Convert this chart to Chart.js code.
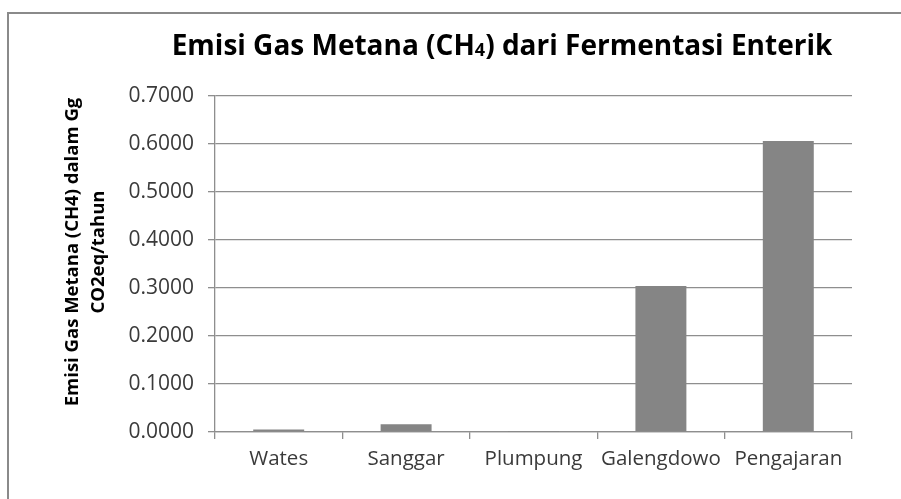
<!DOCTYPE html>
<html>
<head>
<meta charset="utf-8">
<script src="https://cdn.jsdelivr.net/npm/chart.js@4/dist/chart.umd.min.js"></script>
<style>
  html, body { margin: 0; padding: 0; background: #fff; overflow: hidden; }
  #frame { position: absolute; left: 7px; top: 12px; width: 1000px; height: 1000px; border: 2px solid #8a8a8a; }
  #wrap { position: absolute; left: 0; top: 0; width: 901px; height: 499px; }
</style>
</head>
<body>
<div id="frame"></div>
<div id="wrap"><canvas id="chart"></canvas></div>
<script>
// data
var villages = ["Wates", "Sanggar", "Plumpung", "Galengdowo", "Pengajaran"];
var emisi = [0.005, 0.016, 0.0003, 0.304, 0.606];
var yTicks = [0, 0.1, 0.2, 0.3, 0.4, 0.5, 0.6, 0.7];
var titleParts = ["Emisi Gas Metana (CH", "4", ") dari Fermentasi Enterik"];
var yTitle = ["Emisi Gas Metana (CH4) dalam Gg", "CO2eq/tahun"];

var gridGray = "#8e8e8e";
var textGray = "#3a3a3a";

// judul dan label sumbu digambar sendiri supaya posisinya pas
var titlePlugin = {
    id: "judul",
    afterDraw: function (chart) {
        var ctx = chart.ctx;
        ctx.save();
        ctx.fillStyle = "#000";
        ctx.textBaseline = "alphabetic";
        var big = "bold 28px 'Open Sans'";
        var small = "bold 18px 'Open Sans'";
        ctx.font = big;
        var w0 = ctx.measureText(titleParts[0]).width;
        var w2 = ctx.measureText(titleParts[2]).width;
        ctx.font = small;
        var w1 = ctx.measureText(titleParts[1]).width;
        var x = 502 - (w0 + w1 + w2) / 2;
        ctx.font = big;
        ctx.fillText(titleParts[0], x, 55);
        ctx.font = small;
        ctx.fillText(titleParts[1], x + w0, 56);
        ctx.font = big;
        ctx.fillText(titleParts[2], x + w0 + w1, 55);

        // judul sumbu y
        ctx.font = "bold 18.5px 'Open Sans'";
        ctx.textAlign = "center";
        ctx.textBaseline = "middle";
        ctx.translate(0, 252);
        ctx.rotate(-Math.PI / 2);
        ctx.fillText(yTitle[0], 0, 73);
        ctx.fillText(yTitle[1], 0, 99);
        ctx.restore();
    }
};

var ctx = document.getElementById("chart").getContext("2d");
new Chart(ctx, {
    type: "bar",
    data: {
        labels: villages,
        datasets: [{
            label: "Emisi",
            data: emisi,
            backgroundColor: "#858585",
            borderWidth: 0,
            barPercentage: 0.4,
            categoryPercentage: 1.0
        }]
    },
    options: {
        responsive: true,
        maintainAspectRatio: false,
        animation: false,
        layout: { padding: { left: 0, right: 49, top: 96, bottom: 0 } },
        plugins: {
            legend: { display: false },
            title: { display: false },
            tooltip: { enabled: false }
        },
        scales: {
            x: {
                grid: { drawOnChartArea: false, drawTicks: true, tickLength: 7, color: gridGray, lineWidth: 1.3 },
                border: { color: gridGray, width: 1.3 },
                ticks: { color: textGray, font: { family: "'Open Sans'", size: 20.5 }, padding: 8, maxRotation: 0 },
                afterFit: function (scale) { scale.height = 67; }
            },
            y: {
                min: 0,
                max: 0.7,
                afterBuildTicks: function (scale) {
                    scale.ticks = yTicks.map(function (v) { return { value: v }; });
                },
                grid: { color: gridGray, lineWidth: 1.3, tickLength: 7 },
                border: { color: gridGray, width: 1.3 },
                ticks: {
                    color: textGray,
                    font: { family: "'Open Sans'", size: 21 },
                    padding: 14,
                    callback: function (value) { return Number(value).toFixed(4); }
                },
                afterFit: function (scale) { scale.width = 215; }
            }
        }
    },
    plugins: [titlePlugin]
});
</script>
</body>
</html>
